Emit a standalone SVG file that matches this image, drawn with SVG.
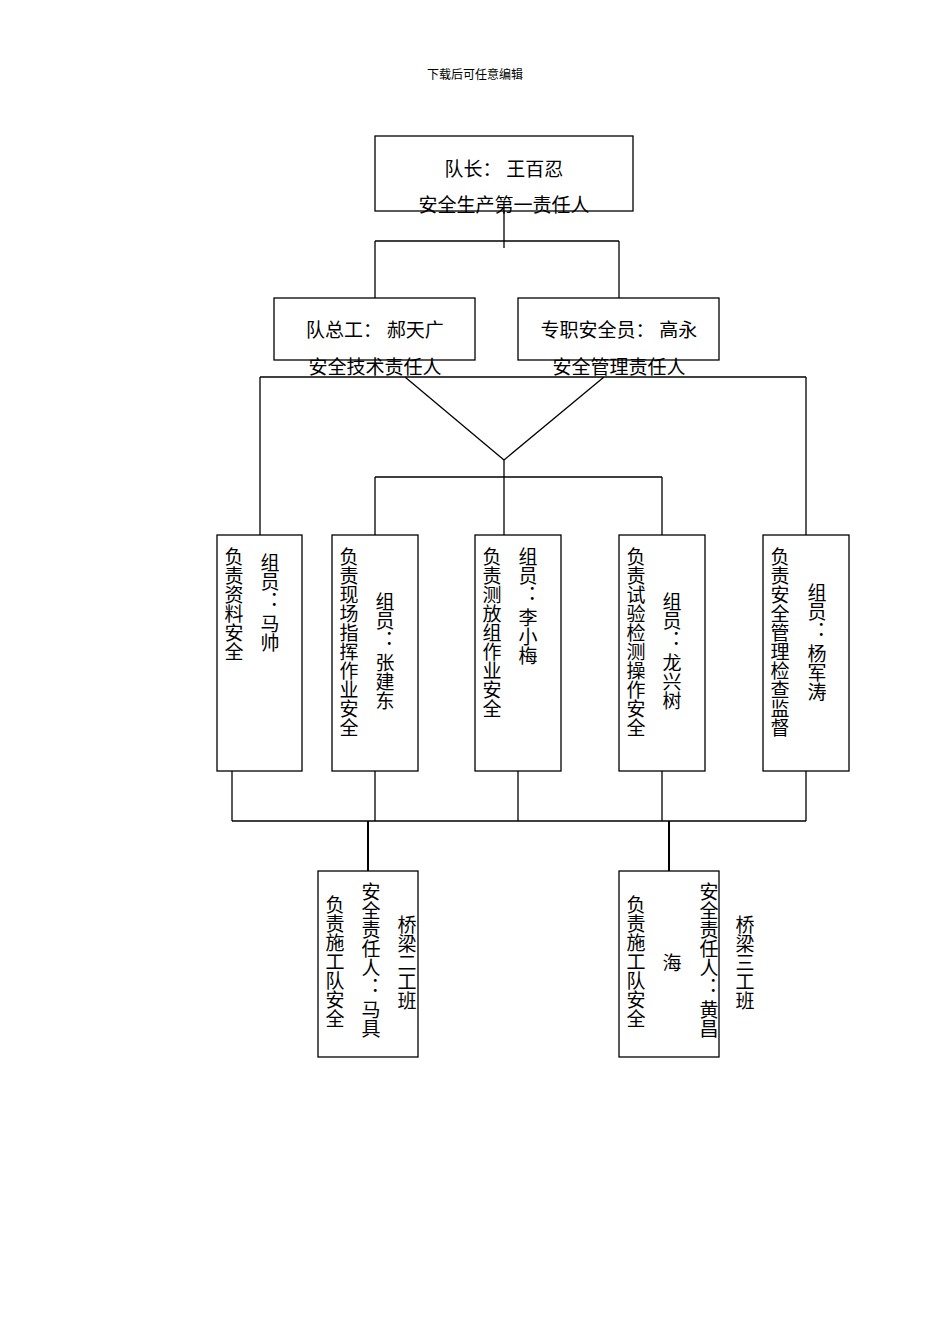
<svg xmlns="http://www.w3.org/2000/svg" width="950" height="1344" viewBox="0 0 950 1344">
<style>
text{font-family:"Liberation Serif","Noto Sans CJK SC",serif;fill:#000}
.h{font-size:19px;text-anchor:middle}
.v{font-size:19px;writing-mode:tb;glyph-orientation-vertical:0}
rect{fill:#fff;stroke:#000;stroke-width:1.3}
line{stroke:#000;stroke-width:1.3}
</style>
<rect x="0" y="0" width="950" height="1344" style="stroke:none"/>
<text x="475" y="79" style="font-size:12px;text-anchor:middle">下载后可任意编辑</text>
<g id="connectors">
<line x1="504" y1="192" x2="504" y2="248"/>
<line x1="375" y1="241" x2="619" y2="241"/>
<line x1="375" y1="241" x2="375" y2="298"/>
<line x1="619" y1="241" x2="619" y2="298"/>
<line x1="260" y1="377" x2="806" y2="377"/>
<line x1="260" y1="377" x2="260" y2="535"/>
<line x1="806" y1="377" x2="806" y2="535"/>
<line x1="405" y1="377" x2="504" y2="460"/>
<line x1="604" y1="377" x2="504" y2="460"/>
<line x1="504" y1="460" x2="504" y2="535"/>
<line x1="375" y1="477" x2="662" y2="477"/>
<line x1="375" y1="477" x2="375" y2="535"/>
<line x1="662" y1="477" x2="662" y2="535"/>
<line x1="232" y1="771" x2="232" y2="821"/>
<line x1="375" y1="771" x2="375" y2="821"/>
<line x1="518" y1="771" x2="518" y2="821"/>
<line x1="662" y1="771" x2="662" y2="821"/>
<line x1="806" y1="771" x2="806" y2="821"/>
<line x1="232" y1="821" x2="806" y2="821"/>
<line x1="368" y1="821" x2="368" y2="871" style="stroke-width:2"/>
<line x1="669" y1="821" x2="669" y2="871" style="stroke-width:2"/>
</g>
<g id="captain">
<rect x="375" y="136" width="258" height="75"/>
<text class="h" x="504" y="176">队长： 王百忍</text>
<text class="h" x="504" y="212">安全生产第一责任人</text>
</g>
<g id="chief">
<rect x="274" y="298" width="201" height="62"/>
<text class="h" x="375" y="337">队总工： 郝天广</text>
<text class="h" x="375" y="374">安全技术责任人</text>
</g>
<g id="safety">
<rect x="518" y="298" width="201" height="62"/>
<text class="h" x="619" y="337">专职安全员： 高永</text>
<text class="h" x="619" y="374">安全管理责任人</text>
</g>
<g id="m1">
<rect x="217" y="535" width="85" height="236"/>
<text class="v" x="232" y="547">负责资料安全</text>
<text class="v" x="268" y="553">组员： 马帅</text>
</g>
<g id="m2">
<rect x="332" y="535" width="86" height="236"/>
<text class="v" x="347" y="547">负责现场指挥作业安全</text>
<text class="v" x="383" y="592">组员： 张建东</text>
</g>
<g id="m3">
<rect x="475" y="535" width="86" height="236"/>
<text class="v" x="490" y="547">负责测放组作业安全</text>
<text class="v" x="526" y="547">组员： 李小梅</text>
</g>
<g id="m4">
<rect x="619" y="535" width="86" height="236"/>
<text class="v" x="634" y="547">负责试验检测操作安全</text>
<text class="v" x="670" y="592">组员： 龙兴树</text>
</g>
<g id="m5">
<rect x="763" y="535" width="86" height="236"/>
<text class="v" x="778" y="547">负责安全管理检查监督</text>
<text class="v" x="815" y="583">组员： 杨军涛</text>
</g>
<g id="b2">
<rect x="318" y="871" width="100" height="186"/>
<text class="v" x="333" y="895">负责施工队安全</text>
<text class="v" x="369" y="882">安全责任人： 马具</text>
<text class="v" x="405" y="915">桥梁二工班</text>
</g>
<g id="b3">
<rect x="619" y="871" width="100" height="186"/>
<text class="v" x="634" y="895">负责施工队安全</text>
<text class="v" x="670" y="953">海</text>
<text class="v" x="707" y="882">安全责任人： 黄昌</text>
<text class="v" x="743" y="915">桥梁三工班</text>
</g>
</svg>
